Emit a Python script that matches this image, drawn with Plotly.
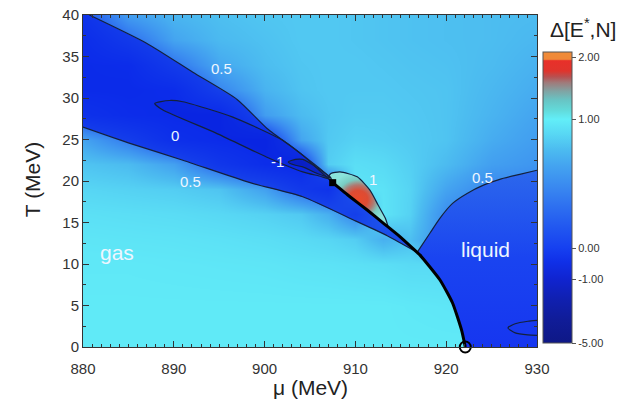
import numpy as np
import plotly.graph_objects as go

# ---- grid of Delta[E*,N] values (vapour / supercritical branch) ----
MU_NODES = [880, 885, 890, 895, 900, 904, 907, 910, 913, 916, 920, 925, 930]
T_NODES = [0, 5, 10, 13, 16, 19, 22, 25, 28, 31, 34, 37, 40]

# rows follow T_NODES, columns follow MU_NODES
DELTA = [
    [0.98, 0.98, 0.98, 0.98, 0.98, 0.98, 0.98, 0.98, 0.98, 0.98, 0.98, 0.98, 0.30],
    [0.98, 0.98, 0.98, 0.98, 0.98, 0.98, 0.98, 0.98, 0.98, 0.97, 0.96, 0.95, 0.30],
    [0.97, 0.97, 0.965, 0.96, 0.955, 0.945, 0.94, 0.93, 0.92, 0.90, 0.90, 0.30, 0.30],
    [0.955, 0.95, 0.945, 0.935, 0.92, 0.90, 0.88, 0.84, 0.70, 0.78, 0.50, 0.30, 0.30],
    [0.93, 0.92, 0.91, 0.89, 0.86, 0.82, 0.70, 0.45, 0.95, 0.86, 0.50, 0.35, 0.35],
    [0.88, 0.86, 0.84, 0.80, 0.62, 0.30, 0.15, 0.95, 0.94, 0.87, 0.64, 0.46, 0.43],
    [0.80, 0.76, 0.62, 0.25, -0.05, -0.40, 0.84, 0.92, 0.90, 0.85, 0.76, 0.61, 0.55],
    [0.64, 0.40, 0.05, -0.20, -0.40, 0.64, 0.82, 0.86, 0.85, 0.83, 0.80, 0.68, 0.60],
    [0.10, -0.10, -0.30, -0.35, 0.60, 0.76, 0.81, 0.83, 0.83, 0.82, 0.80, 0.72, 0.64],
    [-0.25, -0.30, -0.10, 0.45, 0.72, 0.80, 0.82, 0.82, 0.82, 0.81, 0.80, 0.74, 0.68],
    [-0.25, -0.15, 0.35, 0.66, 0.77, 0.81, 0.82, 0.82, 0.81, 0.80, 0.79, 0.76, 0.71],
    [-0.05, 0.30, 0.64, 0.75, 0.79, 0.82, 0.82, 0.81, 0.80, 0.79, 0.78, 0.77, 0.74],
    [0.15, 0.60, 0.73, 0.78, 0.81, 0.82, 0.82, 0.81, 0.80, 0.79, 0.78, 0.77, 0.76],
]

# ---- contour lines (mu, T) ----
LOWER_05_MU = [880.0, 885.0, 891.0, 898.4, 904.2, 910.0, 913.5, 916.8]
LOWER_05_T = [26.5, 24.6, 22.5, 19.8, 18.1, 15.2, 13.4, 11.4]

UPPER_05_MU = [880.7, 887.0, 892.1, 897.0, 900.3, 904.0, 906.1, 907.5]
UPPER_05_T = [40.0, 36.6, 33.1, 29.8, 26.3, 23.3, 21.2, 19.8]

RIGHT_05_MU = [916.8, 918.2, 919.3, 920.7, 922.3, 924.1, 925.9, 928.1, 930.0]
RIGHT_05_T = [11.4, 13.7, 15.5, 17.3, 18.5, 19.5, 20.2, 20.8, 21.3]

ZERO_MU = [887.9, 889.5, 891.0, 896.5, 902.0, 904.2, 906.3, 907.4, 906.0, 904.2, 900.2, 894.6, 888.8, 887.9]
ZERO_T = [29.35, 29.7, 29.55, 27.7, 24.9, 23.1, 21.3, 20.2, 20.6, 21.1, 22.9, 25.8, 28.55, 29.35]

MINUS1_MU = [902.6, 903.4, 904.2, 905.8, 907.3, 905.8, 904.2, 903.4, 902.6]
MINUS1_T = [22.3, 22.6, 22.6, 21.6, 20.4, 20.9, 21.7, 21.9, 22.3]

ONE_MU = [907.5, 907.0, 907.3, 908.3, 910.2, 911.6, 912.5, 913.3, 913.6]
ONE_T = [19.8, 20.4, 20.9, 21.1, 20.5, 18.9, 17.1, 15.5, 14.5]

SMALL_MU = [930.0, 929.0, 927.6, 926.8, 927.6, 929.0, 930.0]
SMALL_T = [3.2, 3.1, 2.8, 2.3, 1.7, 1.45, 1.4]

# liquid-gas coexistence line, from the critical point down to T = 0
COEX_MU = [907.5, 909.4, 911.3, 913.1, 914.9, 916.8, 917.1, 919.3, 920.7, 921.7, 922.1]
COEX_T = [19.8, 18.1, 16.5, 14.9, 13.3, 11.4, 11.1, 8.1, 5.3, 2.0, 0.0]

CRIT_POINT = (907.5, 19.8)
T0_POINT = (922.1, 0.0)

# ---- colour bar ----
CBAR_LEVELS = [-5, -1, 0, 1, 2, 2.05]
CBAR_LABELS = ["-5.00", "-1.00", "0.00", "1.00", "2.00"]
CBAR_POS = [0.0, 0.22, 0.326, 0.769, 0.983, 1.0]

CSCALE = [
    [0.0, "#0e1886"], [0.08, "#101c98"], [0.15, "#1020b0"], [0.22, "#1024d0"],
    [0.28, "#1030e8"], [0.326, "#1640f0"], [0.40, "#2258f0"], [0.47, "#2e70f0"],
    [0.54, "#3a8af0"], [0.61, "#44a4f0"], [0.665, "#4cbcf0"], [0.72, "#58d8f4"],
    [0.769, "#62eef8"], [0.80, "#62dada"], [0.835, "#68c4c4"], [0.865, "#80a4a4"],
    [0.895, "#a07a7a"], [0.915, "#b85050"], [0.935, "#e0342c"], [0.97, "#e8302a"],
    [0.975, "#f08838"], [1.0, "#f08c38"],
]

LINE_C = "#14213d"
FONT = "Arial, 'Liberation Sans', sans-serif"

z_disp = np.interp(np.array(DELTA, dtype=float), CBAR_LEVELS, CBAR_POS)

fig = go.Figure()

fig.add_trace(go.Heatmap(
    x=MU_NODES, y=T_NODES, z=z_disp, zsmooth="best", zmin=0, zmax=1,
    colorscale=CSCALE, hoverinfo="skip",
    colorbar=dict(
        x=1.013, xanchor="left", xpad=0, y=0.011, yanchor="bottom", ypad=0,
        len=0.878, lenmode="fraction", thickness=29, thicknessmode="pixels",
        outlinewidth=1, outlinecolor="#555",
        tickmode="array", tickvals=CBAR_POS[:5], ticktext=CBAR_LABELS,
        ticks="outside", ticklen=4, tickcolor="#555",
        tickfont=dict(size=11, color="#333", family=FONT),
    ),
))


def poly(xs, ys, **kw):
    fig.add_trace(go.Scatter(x=xs, y=ys, mode="lines", fill="toself",
                             line=dict(width=0), hoverinfo="skip",
                             showlegend=False, **kw))


# dark band between the two 0.5 lines
coex_up_mu = [m for m, t in zip(COEX_MU, COEX_T) if t >= LOWER_05_T[-1]][::-1]
coex_up_t = [t for t in COEX_T if t >= LOWER_05_T[-1]][::-1]
band_mu = LOWER_05_MU + coex_up_mu[1:] + UPPER_05_MU[::-1][1:] + [880.0]
band_t = LOWER_05_T + coex_up_t[1:] + UPPER_05_T[::-1][1:] + [40.0]
poly(band_mu, band_t, fillcolor="rgba(10,40,232,0.75)")
poly(ZERO_MU, ZERO_T, fillcolor="rgba(8,30,215,0.4)")
poly(MINUS1_MU, MINUS1_T, fillcolor="rgba(8,24,170,0.5)")

# liquid side
liq_mu = RIGHT_05_MU[::-1] + [m for m, t in zip(COEX_MU, COEX_T) if t < RIGHT_05_T[0]] + [930.0]
liq_t = RIGHT_05_T[::-1] + [t for t in COEX_T if t < RIGHT_05_T[0]] + [0.0]
poly(liq_mu, liq_t, fillgradient=dict(type="vertical",
                                      colorscale=[[0, "#1636f0"], [0.5, "#1a44f0"], [1, "#2c68ec"]]))

# region inside the 1 contour
one_back_mu = [m for m in COEX_MU if m < ONE_MU[-1]][::-1]
one_back_t = [t for m, t in zip(COEX_MU, COEX_T) if m < ONE_MU[-1]][::-1]
poly(ONE_MU + one_back_mu, ONE_T + one_back_t,
     fillgradient=dict(type="radial",
                       colorscale=[[0, "#ea4a2a"], [0.32, "#dc4c34"], [0.52, "#b07870"],
                                   [0.72, "#78ccc2"], [1, "#8ae4dc"]]))

# contour lines
for xs, ys in [(LOWER_05_MU, LOWER_05_T), (UPPER_05_MU, UPPER_05_T),
               (RIGHT_05_MU, RIGHT_05_T), (ZERO_MU, ZERO_T),
               (MINUS1_MU, MINUS1_T), (ONE_MU, ONE_T), (SMALL_MU, SMALL_T)]:
    fig.add_trace(go.Scatter(x=xs, y=ys, mode="lines",
                             line=dict(color=LINE_C, width=1.2, shape="spline", smoothing=0.6),
                             hoverinfo="skip", showlegend=False))

# coexistence line and end points
fig.add_trace(go.Scatter(x=COEX_MU, y=COEX_T, mode="lines",
                         line=dict(color="black", width=3, shape="spline", smoothing=0.5),
                         hoverinfo="skip", showlegend=False))
fig.add_trace(go.Scatter(x=[CRIT_POINT[0]], y=[CRIT_POINT[1]], mode="markers",
                         marker=dict(symbol="square", size=7, color="black"),
                         hoverinfo="skip", showlegend=False))
fig.add_trace(go.Scatter(x=[T0_POINT[0]], y=[T0_POINT[1]], mode="markers", cliponaxis=False,
                         marker=dict(symbol="circle-open", size=11, color="black",
                                     line=dict(width=2, color="black")),
                         hoverinfo="skip", showlegend=False))

# contour values and phase names
LABELS = [("0.5", 895.3, 33.6, 15), ("0", 890.1, 25.5, 15), ("-1", 901.4, 22.3, 15),
          ("0.5", 891.8, 19.9, 15), ("1", 911.9, 20.2, 15), ("0.5", 924.0, 20.4, 15),
          ("gas", 883.7, 11.4, 21), ("liquid", 924.3, 11.8, 21)]
for txt, mx, ty, fs in LABELS:
    fig.add_annotation(x=mx, y=ty, xref="x", yref="y", text=txt, showarrow=False,
                       xanchor="center", yanchor="middle",
                       font=dict(size=fs, color="#eef6ff", family=FONT))

fig.add_annotation(x=0.5, y=-0.123, xref="paper", yref="paper", text="μ (MeV)",
                   xanchor="center", yanchor="middle",
                   showarrow=False, font=dict(size=21, color="#222", family=FONT))
fig.add_annotation(x=-0.112, y=0.503, xref="paper", yref="paper", text="T (MeV)",
                   xanchor="center", yanchor="middle",
                   textangle=-90, showarrow=False, font=dict(size=21, color="#222", family=FONT))
fig.add_annotation(x=1.101, y=0.961, xref="paper", yref="paper", text="Δ[E<sup>*</sup>,N]",
                   xanchor="center", yanchor="middle",
                   showarrow=False, font=dict(size=21, color="#222", family=FONT))

fig.update_xaxes(range=[880, 930], tickvals=[880, 890, 900, 910, 920, 930],
                 ticks="inside", ticklen=6, tickcolor="#333", showline=True,
                 linecolor="#333", linewidth=1, mirror="ticks", showgrid=False,
                 zeroline=False, ticklabelstandoff=8,
                 tickfont=dict(size=15, color="#333", family=FONT),
                 minor=dict(dtick=1, ticks="inside", ticklen=3, tickcolor="#333", showgrid=False))
fig.update_yaxes(range=[0, 40], tickvals=[0, 5, 10, 15, 20, 25, 30, 35, 40],
                 ticks="inside", ticklen=6, tickcolor="#333", showline=True,
                 linecolor="#333", linewidth=1, mirror="ticks", showgrid=False,
                 zeroline=False, tickfont=dict(size=15, color="#333", family=FONT),
                 minor=dict(dtick=2.5, ticks="inside", ticklen=3, tickcolor="#333", showgrid=False))

fig.update_layout(width=628, height=409,
                  margin=dict(l=83, r=91, t=15, b=62, autoexpand=False),
                  paper_bgcolor="white", plot_bgcolor="white", showlegend=False,
                  font=dict(family=FONT))

fig.write_html("out.html")
